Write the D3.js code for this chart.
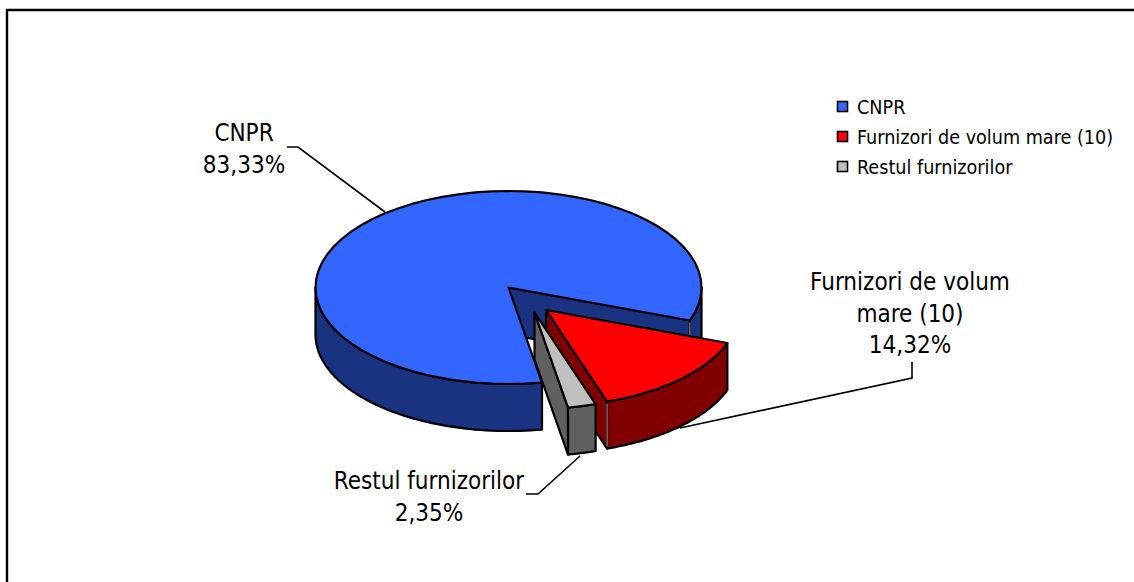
<!DOCTYPE html>
<html><head><meta charset="utf-8">
<script src="https://cdn.jsdelivr.net/npm/d3@7"></script>
<style>html,body{margin:0;padding:0;background:#fff}svg{display:block}text{font-family:"DejaVu Sans Condensed","DejaVu Sans",sans-serif;fill:#000}</style>
</head><body><svg id="c" width="1134" height="582"></svg>
<script>
const categories = ["CNPR", "Furnizori de volum mare (10)", "Restul furnizorilor"];
const values = [83.33, 14.32, 2.35];
const valueLabels = ["83,33%", "14,32%", "2,35%"];
const topColors = ["#3366FF", "#FF0000", "#C0C0C0"];
const sideColors = ["#1A3380", "#800000", "#606060"];

const svg = d3.select("#c");
const rad = d => d * Math.PI / 180;
const cx = 508.5, cy = 287.5, R = 193, squash = 0.5, depth = 47;
const offsets = [[0, 0], [37.5, 22.5], [26, 25]];
const pie = d3.pie().sort(null).startAngle(rad(170)).endAngle(rad(530));
const arcs = pie(values);

svg.append("path").attr("d", "M7 582V10H1134").attr("fill", "none").attr("stroke", "#000").attr("stroke-width", 2.4);

const pt = (i, a, r = R, dz = 0) => [
  cx + offsets[i][0] + r * Math.sin(a),
  cy + offsets[i][1] - r * squash * Math.cos(a) + dz
];
const arcPts = (i, a0, a1, dz = 0) => d3.range(0, 61).map(k => pt(i, a0 + (a1 - a0) * k / 60, R, dz));
const poly = d3.line();
const g = svg.append("g").attr("stroke", "#000").attr("stroke-width", 2.2).attr("stroke-linejoin", "round");
const draw = (pts, fill) => g.append("path").attr("d", poly(pts) + "Z").attr("fill", fill);
const side = (i, a0, a1) => draw(arcPts(i, a0, a1).concat(arcPts(i, a1, a0, depth)), sideColors[i]);
const wall = (i, a) => draw([pt(i, a, 0), pt(i, a), pt(i, a, R, depth), pt(i, a, 0, depth)], sideColors[i]);
const topFace = (i, a0, a1) => draw([pt(i, 0, 0)].concat(arcPts(i, a0, a1)), topColors[i]);
const seam = (i, a) => {
  const [p, q] = [pt(i, a, R, 2), pt(i, a, R, depth - 2)];
  g.append("path").attr("d", poly([p, q])).attr("stroke", "#8a8a8a").attr("stroke-width", 1.2).attr("fill", "none");
};

// leaders
const leaders = [
  [[287, 147], [298, 147], [385, 212]],
  [[912, 362], [912, 378], [680, 428]],
  [[526, 494], [538, 494], [580, 456]]
];
svg.append("g").selectAll("path").data(leaders).join("path")
  .attr("d", d => poly(d)).attr("fill", "none").attr("stroke", "#000").attr("stroke-width", 1.6);

// CNPR
const sliceA = arcs[0];
wall(0, sliceA.endAngle);
side(0, sliceA.endAngle - 2 * Math.PI, rad(90));
seam(0, sliceA.endAngle);
side(0, sliceA.startAngle, rad(270));
topFace(0, sliceA.startAngle, sliceA.endAngle);
// Furnizori de volum mare
const sliceB = arcs[1];
wall(1, sliceB.endAngle);
side(1, sliceB.startAngle, sliceB.endAngle);
seam(1, sliceB.endAngle);
topFace(1, sliceB.startAngle, sliceB.endAngle);
// Restul furnizorilor
const sliceC = arcs[2];
wall(2, sliceC.endAngle);
side(2, sliceC.startAngle, sliceC.endAngle);
topFace(2, sliceC.startAngle, sliceC.endAngle);

// data labels
const labelSize = 24, lh = 31.5;
const labels = [
  {x: 244, y: 141, lines: [categories[0], valueLabels[0]]},
  {x: 910, y: 290, lines: ["Furnizori de volum", "mare (10)", valueLabels[1]]},
  {x: 429, y: 489, lines: [categories[2], valueLabels[2]]}
];
labels.forEach(l => {
  const t = svg.append("text").attr("text-anchor", "middle").attr("font-size", labelSize);
  l.lines.forEach((line, i) => t.append("tspan").attr("x", l.x).attr("y", l.y + i * lh).text(line));
});

// legend
const rowY = d3.scalePoint().domain(categories).range([107, 167]);
const leg = svg.append("g").selectAll("g").data(categories).join("g")
  .attr("transform", d => `translate(0,${rowY(d)})`);
leg.append("rect").attr("x", 837.5).attr("y", -5.5).attr("width", 10).attr("height", 10)
  .attr("fill", (d, i) => topColors[i]).attr("stroke", "#000").attr("stroke-width", 1.6);
leg.append("text").attr("x", 857).attr("y", 7).attr("font-size", 19.6).text(d => d);
</script></body></html>
